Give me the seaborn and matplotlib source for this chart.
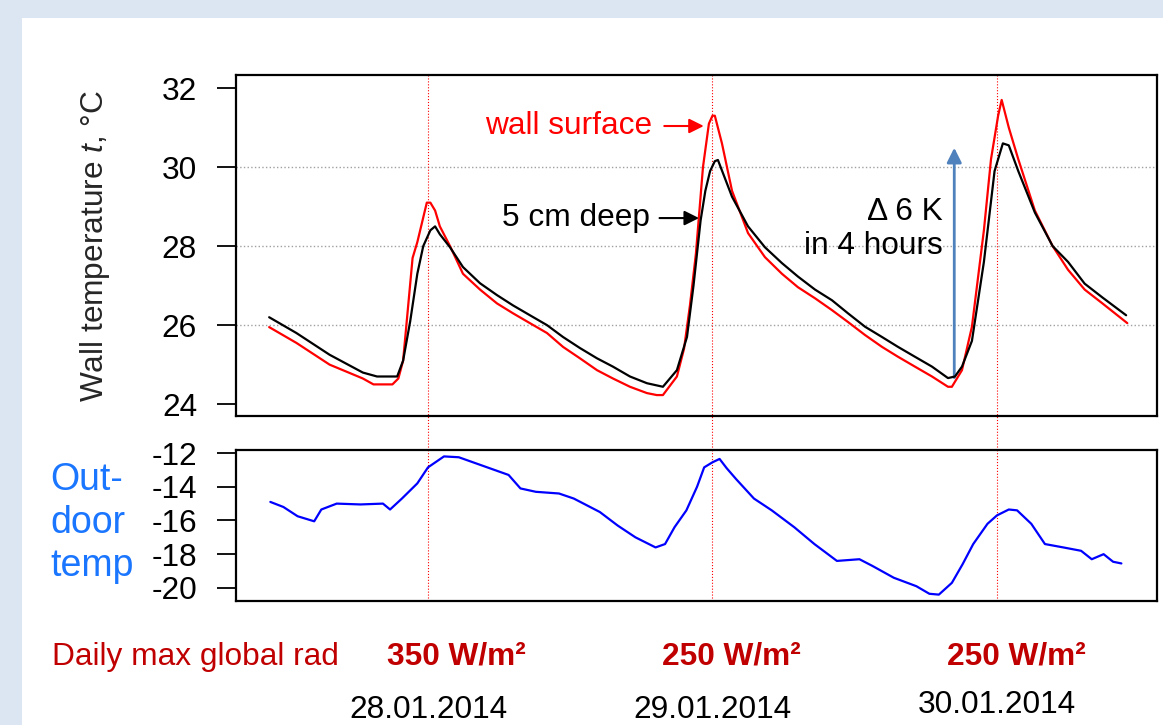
import matplotlib
matplotlib.use("Agg")
import matplotlib.pyplot as plt
import matplotlib.transforms as mtransforms
from matplotlib.patches import Rectangle
import seaborn as sns


sns.set_theme(style="ticks")
plt.rcParams["font.family"] = ["Liberation Sans", "DejaVu Sans"]
plt.rcParams["mathtext.fontset"] = "custom"
plt.rcParams["mathtext.rm"] = "Liberation Sans"
plt.rcParams["mathtext.it"] = "Liberation Sans:italic"

# hours since 27.01.2014 00:00
hours_surface = [22.6, 24.9, 27.7, 30.5, 31.4, 33.0, 33.5, 33.9, 34.3, 34.7, 35.1, 35.5, 35.9, 36.2,
                 36.6, 37.0, 37.86, 38.95, 40.39, 41.82, 43.17, 44.6, 46.04, 47.39, 48.82, 50.26,
                 51.6, 53.04, 54.47, 55.3, 55.82, 57.0, 57.6, 58.1, 58.6, 59.2, 59.7, 60.0, 60.2,
                 60.8, 61.65, 63.0, 64.43, 65.86, 67.21, 68.65, 70.08, 71.43, 72.87, 74.3, 75.65,
                 77.08, 78.52, 79.87, 80.2, 81.05, 81.89, 82.9, 83.5, 84.1, 84.4, 85.0, 85.8, 87.2,
                 88.7, 90.0, 91.4, 92.9, 95.0]
wall_surface = [25.95, 25.55, 25.0, 24.65, 24.5, 24.5, 24.65, 25.1, 26.4, 27.7, 28.1, 28.6, 29.1, 29.1,
                28.9, 28.5, 28.0, 27.3, 26.9, 26.55, 26.3, 26.05, 25.8, 25.45, 25.16, 24.86,
                24.65, 24.44, 24.28, 24.23, 24.23, 24.7, 25.4, 26.5, 27.8, 30.0, 31.1, 31.3, 31.3,
                30.6, 29.4, 28.33, 27.72, 27.3, 26.96, 26.68, 26.38, 26.08, 25.75, 25.45, 25.2,
                24.95, 24.7, 24.44, 24.44, 24.86, 25.96, 28.4, 30.2, 31.3, 31.7, 31.0, 30.2, 28.9,
                28.0, 27.4, 26.9, 26.55, 26.05]

hours_deep = [22.6, 24.9, 27.7, 30.5, 31.7, 33.4, 33.9, 34.5, 35.1, 35.6, 36.2, 36.6, 37.0, 37.86,
              38.95, 40.39, 41.82, 43.17, 44.6, 46.04, 47.39, 48.82, 50.26, 51.6, 53.04, 54.47,
              55.82, 57.0, 57.85, 58.4, 59.0, 59.4, 59.8, 60.2, 60.46, 61.65, 63.0, 64.43, 65.86,
              67.21, 68.65, 70.08, 71.43, 72.87, 74.3, 75.65, 77.08, 78.52, 79.87, 80.46, 81.05,
              81.89, 82.9, 83.8, 84.5, 85.0, 85.8, 87.2, 88.7, 90.0, 91.4, 92.9, 94.9]
deep_5cm = [26.2, 25.8, 25.25, 24.8, 24.7, 24.7, 25.1, 26.1, 27.3, 28.0, 28.4, 28.5, 28.3, 27.97,
            27.47, 27.06, 26.76, 26.5, 26.25, 26.0, 25.7, 25.42, 25.16, 24.95, 24.7, 24.53,
            24.44, 24.86, 25.7, 27.0, 28.65, 29.4, 29.9, 30.15, 30.18, 29.25, 28.5, 27.97, 27.57,
            27.23, 26.9, 26.63, 26.3, 25.96, 25.7, 25.45, 25.2, 24.95, 24.66, 24.7, 24.95,
            25.6, 27.6, 29.9, 30.6, 30.55, 29.9, 28.85, 28.0, 27.6, 27.05, 26.7, 26.25]

hours_outdoor = [22.7, 23.8, 25.0, 26.4, 27.0, 28.3, 30.3, 32.2, 32.8, 33.8, 35.1, 36.0, 37.35, 38.6,
                 40.0, 41.2, 42.8, 43.8, 45.1, 47.05, 48.3, 50.5, 52.0, 53.5, 55.2, 56.0, 56.8, 57.8,
                 58.7, 59.3, 60.0, 60.6, 61.2, 62.0, 63.5, 65.0, 66.9, 68.6, 70.5, 72.4, 73.5, 75.3,
                 77.2, 78.3, 79.1, 80.2, 81.1, 82.0, 83.2, 84.0, 85.0, 85.7, 86.9, 88.05, 89.6, 91.1,
                 92.0, 93.0, 93.8, 94.5]
outdoor = [-14.9, -15.2, -15.75, -16.05, -15.35, -15.0, -15.05, -15.0, -15.35, -14.7, -13.8, -12.85,
           -12.2, -12.25, -12.6, -12.9, -13.3, -14.1, -14.3, -14.4, -14.7, -15.5, -16.3, -17.0, -17.6,
           -17.4, -16.4, -15.4, -14.0, -12.85, -12.55, -12.35, -12.9, -13.55, -14.7, -15.4, -16.4,
           -17.4, -18.4, -18.3, -18.7, -19.4, -19.9, -20.35, -20.4, -19.7, -18.6, -17.4, -16.2, -15.7,
           -15.35, -15.4, -16.2, -17.4, -17.6, -17.8, -18.3, -18.0, -18.45, -18.55]

noon_hours = [36, 60, 84]
day_labels = ["28.01.2014", "29.01.2014", "30.01.2014"]
rad_hours = [38.4, 61.6, 85.6]
rad_labels = ["350 W/m²", "250 W/m²", "250 W/m²"]

FS = 22.8
DARK_RED = "#c00000"

fig = plt.figure(figsize=(11.63, 7.25), dpi=100)
fig.patch.set_facecolor("#dce6f2")
fig.patches.append(Rectangle((22 / 1163, 0), 1, 1 - 18 / 725, transform=fig.transFigure,
                             facecolor="white", edgecolor="none", zorder=-10))

ax1 = fig.add_axes([0.2029, 0.4262, 0.7919, 0.4703])
ax2 = fig.add_axes([0.2029, 0.1710, 0.7919, 0.2083])

sns.lineplot(x=hours_surface, y=wall_surface, ax=ax1, color="red", lw=1.6, zorder=3)
sns.lineplot(x=hours_deep, y=deep_5cm, ax=ax1, color="black", lw=1.6, zorder=4)
sns.lineplot(x=hours_outdoor, y=outdoor, ax=ax2, color="blue", lw=1.6, zorder=3)

for ax in (ax1, ax2):
    ax.set_facecolor("white")
    ax.set_xlim(19.8, 97.5)
    ax.set_xticks([])
    for sp in ax.spines.values():
        sp.set_visible(True)
        sp.set_color("black")
        sp.set_linewidth(1.6)
    ax.tick_params(axis="y", length=14, width=1.3, pad=14, labelsize=FS, colors="black")

ax1.set_ylim(23.7, 32.33)
ax1.set_yticks([24, 26, 28, 30, 32])
for g in [26, 28, 30]:
    ax1.axhline(g, color="#a0a0a0", ls=":", lw=1.0, zorder=1)
ax1.set_ylabel("Wall temperature $t$, °C", fontsize=FS)
ax1.yaxis.set_label_coords(-0.135, 0.5)

ax2.set_ylim(-20.78, -11.82)
ax2.set_yticks([-20, -18, -16, -14, -12])
ax2.set_yticklabels(["-20", "-18", "-16", "-14", "-12"])

for h in noon_hours:
    ax1.axvline(h, ymin=-0.1, ymax=1, color="red", ls=":", lw=0.8, zorder=2, clip_on=False)
    ax2.axvline(h, color="red", ls=":", lw=0.8, zorder=2)

# annotations
ax1.text(54.9, 31.04, "wall surface", color="red", fontsize=FS, ha="right", va="center")
ax1.annotate("", xy=(59.5, 31.04), xytext=(55.7, 31.04),
             arrowprops=dict(arrowstyle="-|>", color="red", lw=1.5, mutation_scale=22))
ax1.text(54.7, 28.71, "5 cm deep", color="black", fontsize=FS, ha="right", va="center")
ax1.annotate("", xy=(59.1, 28.71), xytext=(55.3, 28.71),
             arrowprops=dict(arrowstyle="-|>", color="black", lw=1.5, mutation_scale=22))
ax1.annotate("", xy=(80.4, 30.56), xytext=(80.4, 24.6),
             arrowprops=dict(arrowstyle="-|>", color="#4f81bd", lw=2, mutation_scale=22))
ax1.text(79.4, 28.86, "Δ 6 K", color="black", fontsize=FS, ha="right", va="center")
ax1.text(79.4, 28.0, "in 4 hours", color="black", fontsize=FS, ha="right", va="center")

fig.text(0.043, 0.279, "Out-\ndoor\ntemp", color="#1a75ff", fontsize=27, ha="left", va="center",
         linespacing=1.25)

trans = mtransforms.blended_transform_factory(ax2.transData, fig.transFigure)
fig.text(0.0447, 0.094, "Daily max global rad", color=DARK_RED, fontsize=FS, ha="left", va="center")
for h, lab in zip(rad_hours, rad_labels):
    ax2.text(h, 0.094, lab, transform=trans, color=DARK_RED, fontsize=FS, fontweight="bold",
             ha="center", va="center")
for h, lab, y in zip(noon_hours, day_labels, [0.02, 0.02, 0.027]):
    ax2.text(h, y, lab, transform=trans, color="black", fontsize=FS, ha="center", va="center")

fig.savefig("out.png", dpi=100, facecolor=fig.get_facecolor())
